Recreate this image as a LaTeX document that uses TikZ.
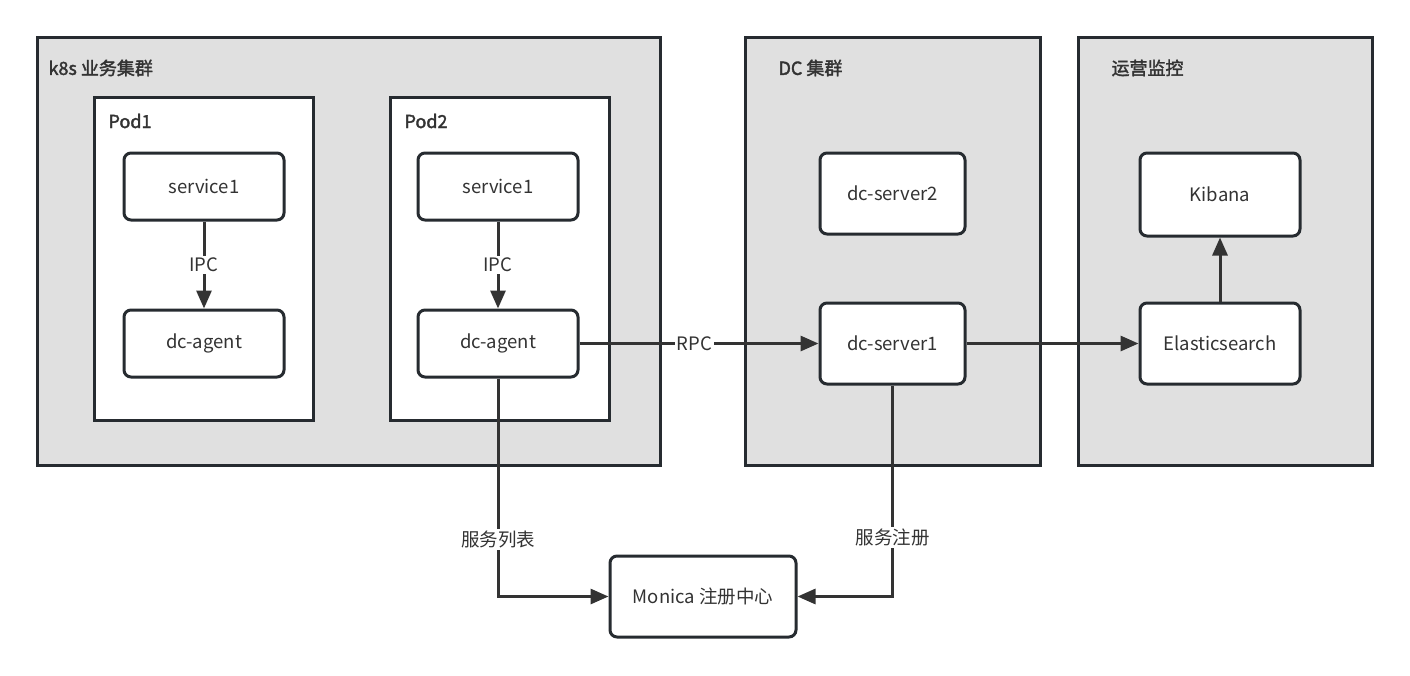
\documentclass[tikz,border=0pt]{standalone}
\usepackage{fontspec}
\setmainfont{Noto Sans CJK SC}
\newfontfamily\medfont{Noto Sans CJK SC}[FakeBold=2]
\usetikzlibrary{arrows.meta}
\definecolor{edge}{HTML}{262B30}
\definecolor{grayfill}{HTML}{E0E0E0}
\definecolor{arr}{HTML}{333333}
\tikzset{
  cluster/.style={draw=edge, line width=3pt, fill=grayfill},
  podbox/.style={draw=edge, line width=3pt, fill=white},
  comp/.style={draw=edge, line width=3pt, fill=white, rounded corners=7pt, font=\fontsize{18.5}{22}\selectfont, text=arr},
  title/.style={anchor=west, font=\medfont\fontsize{18}{21}\selectfont, text=arr},
  conn/.style={draw=arr, line width=3pt, -{Triangle[length=18pt,width=15pt]}},
  lbl/.style={fill=white, inner sep=2pt, font=\fontsize{18.5}{22}\selectfont, text=arr},
}
\begin{document}
\begin{tikzpicture}[x=1pt,y=-1pt]
\useasboundingbox (0,0) rectangle (1410,675);
% clusters
\node[cluster, minimum width=623pt, minimum height=428pt, inner sep=0] (k8s) at (348.5,251) {};
\node[cluster, minimum width=295pt, minimum height=428pt, inner sep=0] (dc) at (892.5,251) {};
\node[cluster, minimum width=294pt, minimum height=428pt, inner sep=0] (ops) at (1225,251) {};
\node[title] (k8st) at (45,68) {k8s 业务集群};
\node[title] (dct) at (775,68) {DC 集群};
\node[title] (opst) at (1108,68) {运营监控};
% pods
\node[podbox, minimum width=219pt, minimum height=323pt, inner sep=0] (pod1) at (203.5,258.5) {};
\node[podbox, minimum width=219pt, minimum height=323pt, inner sep=0] (pod2) at (499.5,258.5) {};
\node[title] (pod1t) at (105,121) {Pod1};
\node[title] (pod2t) at (401,121) {Pod2};
% components
\node[comp, minimum width=160pt, minimum height=67pt] (svc1) at (204,186.5) {service1};
\node[comp, minimum width=160pt, minimum height=67pt] (agent1) at (204,343.5) {dc-agent};
\node[comp, minimum width=160pt, minimum height=67pt] (svc2) at (498,186.5) {service1};
\node[comp, minimum width=160pt, minimum height=67pt] (agent2) at (498,343.5) {dc-agent};
\node[comp, minimum width=145pt, minimum height=81pt] (srv2) at (892.5,193.5) {dc-server2};
\node[comp, minimum width=145pt, minimum height=81pt] (srv1) at (892.5,343.5) {dc-server1};
\node[comp, minimum width=160pt, minimum height=83pt] (kib) at (1220,194.5) {Kibana};
\node[comp, minimum width=160pt, minimum height=81pt] (es) at (1220,343.5) {Elasticsearch};
\node[comp, minimum width=186pt, minimum height=81pt] (mon) at (703,596.5) {Monica 注册中心};
% connectors
\draw[conn] (svc1) -- node[lbl] {IPC} (agent1);
\draw[conn] (svc2) -- node[lbl] {IPC} (agent2);
\draw[conn] (agent2) -- node[lbl, pos=0.48] {RPC} (srv1);
\draw[conn] (srv1) -- (es);
\draw[conn] (es) -- (kib);
\draw[conn] (agent2.south) |- node[lbl, pos=0.37] {服务列表} (mon.west);
\draw[conn] (srv1.south) |- node[lbl, pos=0.36] {服务注册} (mon.east);
\end{tikzpicture}
\end{document}
